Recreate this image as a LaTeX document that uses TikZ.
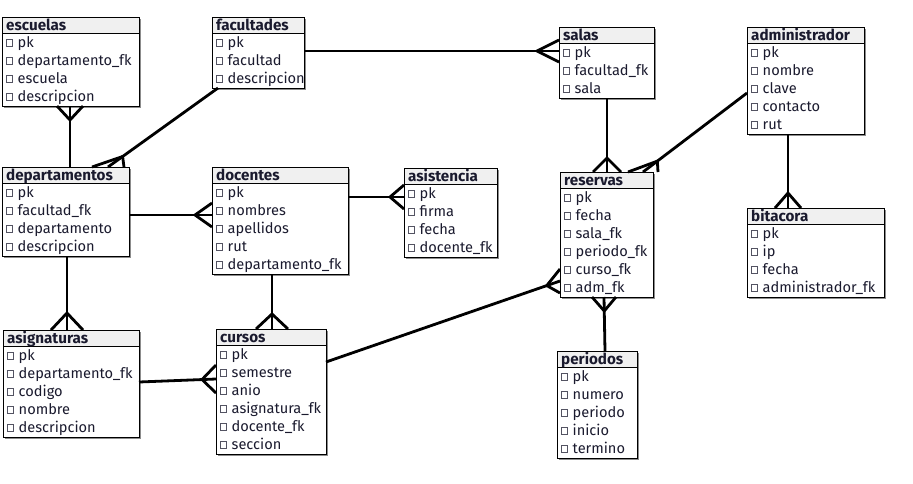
\documentclass[tikz,border=0pt]{standalone}
\usepackage{fontspec}
\setmainfont{Fira Sans}
\usetikzlibrary{calc}
\definecolor{txt}{HTML}{1A1A2E}
\definecolor{hdrfill}{HTML}{F0F0F0}
\definecolor{shd}{HTML}{8C8C8C}
\tikzset{
  tbox/.style={draw=black, line width=0.8pt, fill=white, inner sep=0pt, outer sep=0pt, anchor=north west},
  ttl/.style={anchor=base west, inner sep=0pt, font=\bfseries\fontsize{15.2}{16}\selectfont, text=txt},
  fld/.style={anchor=base west, inner sep=0pt, font=\fontsize{14.6}{16}\selectfont, text=txt},
  chk/.style={draw=txt!75, line width=0.5pt},
  rel/.style={line width=2.8pt, black, line cap=butt, line join=round},
}
% name, x, y, width, rows, title, fields
\newcommand\dbtable[7]{%
  \pgfmathsetmacro\tabh{16+18*#5+1}%
  \fill[shd] (#2+2,#3+2) rectangle (#2+#4+2,#3+\tabh+2);
  \node[tbox, minimum width=#4pt, minimum height=\tabh pt] (#1) at (#2,#3) {};
  \fill[hdrfill] ($(#1.north west)+(0.5,0.5)$) rectangle ($(#1.north east)+(-0.5,16)$);
  \draw[line width=0.8pt] ($(#1.north west)+(0,16)$) -- ($(#1.north east)+(0,16)$);
  \node[ttl] (#1-t) at ($(#1.north west)+(4,13.5)$) {#6};
  \foreach \f [count=\i] in {#7} {
    \draw[chk] ($(#1.north west)+(4,16+18*\i-9-2.5)$) rectangle +(6.5,6.5);
    \node[fld] (#1-\i) at ($(#1.north west)+(15.5,16+18*\i-9+5.5)$) {\f};
  }
}
% E on horizontal edge, F far end, prong length, spread
\newcommand\crowH[4]{%
  \draw[rel] (#2) -- (#1);
  \draw[rel] ($(#1)+(-#4,0)$) -- ($(#1)!#3pt!(#2)$) -- ($(#1)+(#4,0)$);
}
\newcommand\crowV[4]{%
  \draw[rel] (#2) -- (#1);
  \draw[rel] ($(#1)+(0,-#4)$) -- ($(#1)!#3pt!(#2)$) -- ($(#1)+(0,#4)$);
}
\begin{document}
\begin{tikzpicture}[x=1pt, y=-1pt]
\useasboundingbox (0,0) rectangle (913,483);
\dbtable{esc}{2}{17}{137}{4}{escuelas}{pk,departamento\_fk,escuela,descripcion}
\dbtable{fac}{212}{17}{92}{3}{facultades}{pk,facultad,descripcion}
\dbtable{sal}{559}{27}{95}{3}{salas}{pk,facultad\_fk,sala}
\dbtable{adm}{747}{27}{117}{5}{administrador}{pk,nombre,clave,contacto,rut}
\dbtable{dep}{2}{167}{127}{4}{departamentos}{pk,facultad\_fk,departamento,descripcion}
\dbtable{doc}{212}{167}{136}{5}{docentes}{pk,nombres,apellidos,rut,departamento\_fk}
\dbtable{asi}{404}{168}{93}{4}{asistencia}{pk,firma,fecha,docente\_fk}
\dbtable{res}{560}{172}{93}{6}{reservas}{pk,fecha,sala\_fk,periodo\_fk,curso\_fk,adm\_fk}
\dbtable{bit}{747}{208}{137}{4}{bitacora}{pk,ip,fecha,administrador\_fk}
\dbtable{asg}{3}{330}{136}{5}{asignaturas}{pk,departamento\_fk,codigo,nombre,descripcion}
\dbtable{cur}{216}{329}{110}{6}{cursos}{pk,semestre,anio,asignatura\_fk,docente\_fk,seccion}
\dbtable{per}{557}{351}{80}{5}{periodos}{pk,numero,periodo,inicio,termino}

\coordinate (c1e) at ($(esc.south west)+(68,0)$);
\coordinate (c1f) at (c1e |- dep.north);
\crowH{c1e}{c1f}{14}{13}
\coordinate (c2e) at ($(dep.north west)+(106,0)$);
\coordinate (c2f) at ($(fac.south west)+(6,0)$);
\crowH{c2e}{c2f}{18}{16}
\coordinate (c3e) at ($(sal.north west)+(0,24)$);
\coordinate (c3f) at (c3e -| fac.east);
\crowV{c3e}{c3f}{22}{11}
\coordinate (c4e) at ($(res.north west)+(47,0)$);
\coordinate (c4f) at (c4e |- sal.south);
\crowH{c4e}{c4f}{14}{14}
\coordinate (c5e) at ($(res.north west)+(83,0)$);
\coordinate (c5f) at ($(adm.north west)+(0,66)$);
\crowH{c5e}{c5f}{18}{15}
\coordinate (c6e) at ($(bit.north west)+(41,0)$);
\coordinate (c6f) at (c6e |- adm.south);
\crowH{c6e}{c6f}{15}{13}
\coordinate (c7e) at ($(doc.north west)+(0,48)$);
\coordinate (c7f) at (c7e -| dep.east);
\crowV{c7e}{c7f}{17}{12}
\coordinate (c8e) at ($(asi.north west)+(0,29)$);
\coordinate (c8f) at (c8e -| doc.east);
\crowV{c8e}{c8f}{14}{12}
\coordinate (c9e) at ($(asg.north west)+(64,0)$);
\coordinate (c9f) at (c9e |- dep.south);
\crowH{c9e}{c9f}{17}{16}
\coordinate (c10e) at ($(cur.north west)+(56,0)$);
\coordinate (c10f) at (c10e |- doc.south);
\crowH{c10e}{c10f}{15}{16}
\coordinate (c11e) at ($(cur.north west)+(0,50)$);
\coordinate (c11f) at ($(asg.north east)+(0,52)$);
\crowV{c11e}{c11f}{14}{14}
\coordinate (c12e) at ($(res.north west)+(0,109)$);
\coordinate (c12f) at ($(cur.north east)+(0,33)$);
\crowV{c12e}{c12f}{14}{12}
\coordinate (c13e) at ($(res.south west)+(44,0)$);
\coordinate (c13f) at ($(per.north west)+(48,0)$);
\crowH{c13e}{c13f}{14}{12}
\end{tikzpicture}
\end{document}
